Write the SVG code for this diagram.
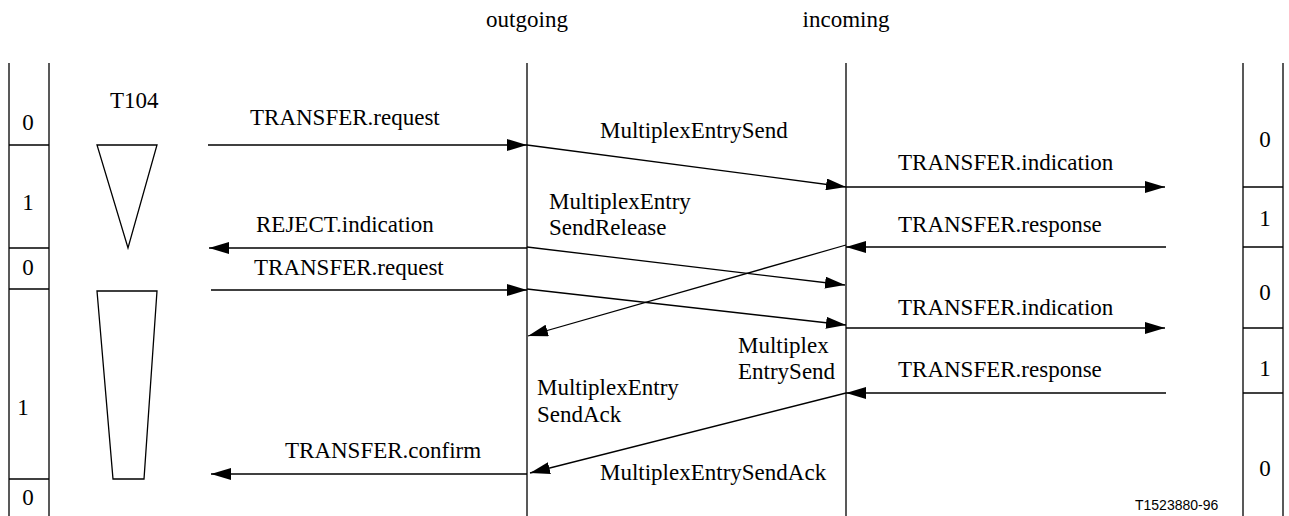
<svg xmlns="http://www.w3.org/2000/svg" width="1289" height="516" viewBox="0 0 1289 516">
<style>
text{font-family:"Liberation Serif","Times New Roman",serif;font-size:23px;fill:#000}
.id{font-family:"Liberation Sans",Arial,sans-serif;font-size:14px}
.ln{stroke:#000;stroke-width:1.3;fill:none}
.vl{stroke:#222;stroke-width:1.5;fill:none}
.ar{stroke:#000;stroke-width:1.3;fill:none;marker-end:url(#ah)}
.mid{text-anchor:middle}
</style>
<defs>
<marker id="ah" markerUnits="userSpaceOnUse" markerWidth="21" markerHeight="12" refX="20" refY="6" orient="auto" viewBox="0 0 21 12">
<path d="M0,0 L20,6 L0,12 z" fill="#000"/>
</marker>
</defs>
<rect width="1289" height="516" fill="#fff"/>
<g id="headers">
<text x="527" y="27" class="mid">outgoing</text>
<text x="846" y="27" class="mid">incoming</text>
</g>
<g id="left-state">
<line class="vl" x1="9" y1="63" x2="9" y2="516"/>
<line class="vl" x1="49" y1="63" x2="49" y2="516"/>
<line class="ln" x1="9" y1="145" x2="49" y2="145"/>
<line class="ln" x1="9" y1="248" x2="49" y2="248"/>
<line class="ln" x1="9" y1="289" x2="49" y2="289"/>
<line class="ln" x1="9" y1="479" x2="49" y2="479"/>
<text x="28" y="130" class="mid">0</text>
<text x="28" y="210" class="mid">1</text>
<text x="28" y="275" class="mid">0</text>
<text x="23" y="415" class="mid">1</text>
<text x="28" y="505" class="mid">0</text>
</g>
<g id="timer">
<text x="110" y="108">T104</text>
<polygon class="ln" points="97,145 157,145 128,248"/>
<polygon class="ln" points="97,291 157,291 144,479 113,479"/>
</g>
<g id="outgoing-line">
<line class="vl" x1="527" y1="63" x2="527" y2="516"/>
</g>
<g id="incoming-line">
<line class="vl" x1="846" y1="63" x2="846" y2="516"/>
</g>
<g id="right-state">
<line class="vl" x1="1243" y1="63" x2="1243" y2="516"/>
<line class="vl" x1="1283" y1="63" x2="1283" y2="516" stroke="#555" stroke-width="2"/>
<line class="ln" x1="1243" y1="187" x2="1283" y2="187"/>
<line class="ln" x1="1243" y1="247" x2="1283" y2="247"/>
<line class="ln" x1="1243" y1="328" x2="1283" y2="328"/>
<line class="ln" x1="1243" y1="393" x2="1283" y2="393"/>
<text x="1265" y="147" class="mid">0</text>
<text x="1265" y="226" class="mid">1</text>
<text x="1265" y="300" class="mid">0</text>
<text x="1265" y="376" class="mid">1</text>
<text x="1265" y="476" class="mid">0</text>
</g>
<g id="connectors">
<line class="ar" x1="208" y1="145" x2="527" y2="145"/>
<line class="ar" x1="527" y1="145" x2="846" y2="187"/>
<line class="ar" x1="846" y1="187" x2="1165" y2="187"/>
<line class="ar" x1="1166" y1="247" x2="846" y2="247"/>
<line class="ar" x1="527" y1="248" x2="209" y2="248"/>
<line class="ar" x1="527" y1="247" x2="845" y2="285"/>
<line class="ar" x1="211" y1="290" x2="527" y2="290"/>
<line class="ar" x1="527" y1="289" x2="846" y2="325"/>
<line class="ar" x1="846" y1="328" x2="1165" y2="328"/>
<line class="ar" x1="846" y1="245" x2="528" y2="336"/>
<line class="ar" x1="1166" y1="393" x2="846" y2="393"/>
<line class="ar" x1="846" y1="393" x2="530" y2="473"/>
<line class="ar" x1="527" y1="474" x2="211" y2="474"/>
</g>
<g id="labels">
<text x="250" y="125">TRANSFER.request</text>
<text x="600" y="138">MultiplexEntrySend</text>
<text x="898" y="170">TRANSFER.indication</text>
<text x="898" y="232">TRANSFER.response</text>
<text x="256" y="232">REJECT.indication</text>
<text x="549" y="209">MultiplexEntry</text>
<text x="549" y="235">SendRelease</text>
<text x="254" y="275">TRANSFER.request</text>
<text x="898" y="315">TRANSFER.indication</text>
<text x="738" y="353">Multiplex</text>
<text x="738" y="379">EntrySend</text>
<text x="898" y="377">TRANSFER.response</text>
<text x="537" y="395">MultiplexEntry</text>
<text x="537" y="422">SendAck</text>
<text x="600" y="480">MultiplexEntrySendAck</text>
<text x="285" y="458">TRANSFER.confirm</text>
<text x="1135" y="510" class="id">T1523880-96</text>
</g>
</svg>
